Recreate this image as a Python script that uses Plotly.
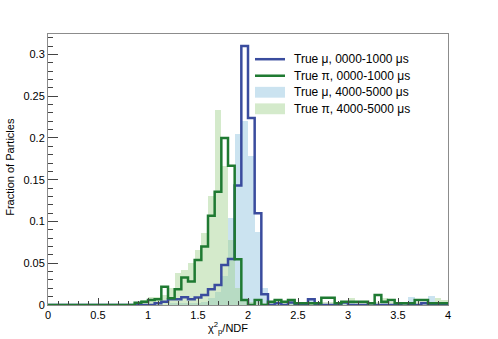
import numpy as np
import plotly.graph_objects as go

# 60 bins of width 1/15 between 0 and 4
bin_edges = np.linspace(0, 4, 61)

mu_early = [
    0, 0, 0, 0, 0, 0, 0, 0, 0, 0,
    0, 0, 0, 0, 0, 0, 0.002, 0.004, 0.0068, 0.0068,
    0.0092, 0.0068, 0.009, 0.012, 0.019, 0.024, 0.048, 0.055, 0.143, 0.310,
    0.224, 0.110, 0.013, 0, 0.002, 0, 0.003, 0, 0, 0.007,
    0, 0, 0, 0, 0.003, 0, 0, 0, 0.002, 0,
    0, 0, 0, 0.002, 0, 0, 0.002, 0, 0, 0,
]
pi_early = [
    0, 0, 0, 0, 0, 0, 0, 0, 0, 0,
    0, 0, 0, 0.0028, 0.004, 0.006, 0.0068, 0.0219, 0.008, 0.019,
    0.033, 0.028, 0.054, 0.070, 0.107, 0.1356, 0.200, 0.1667, 0.0547, 0.006,
    0, 0.006, 0, 0.004, 0.006, 0.004, 0.006, 0.002, 0.002, 0.002,
    0.002, 0.0088, 0.0088, 0.002, 0.004, 0.004, 0.004, 0.004, 0.002, 0.012,
    0.004, 0.006, 0.002, 0.002, 0.002, 0.006, 0.006, 0.002, 0.002, 0.002,
]
mu_late = [
    0, 0, 0, 0, 0, 0, 0, 0, 0, 0,
    0, 0, 0, 0, 0, 0, 0, 0, 0.002, 0.002,
    0.002, 0.002, 0.002, 0.004, 0.008, 0.015, 0.035, 0.104, 0.2046, 0.2206,
    0.178, 0.087, 0.020, 0.005, 0.004, 0, 0.004, 0, 0, 0.006,
    0, 0, 0, 0, 0.004, 0.003, 0, 0, 0, 0,
    0.004, 0, 0, 0, 0.009, 0, 0, 0.011, 0.004, 0,
]
pi_late = [
    0, 0, 0, 0, 0, 0, 0, 0, 0, 0,
    0, 0, 0, 0.004, 0.006, 0.010, 0.009, 0.012, 0.020, 0.038,
    0.042, 0.050, 0.066, 0.086, 0.130, 0.233, 0.166, 0.078, 0.020, 0.005,
    0.003, 0.004, 0.002, 0.004, 0.006, 0.004, 0.004, 0.002, 0.004, 0.004,
    0.002, 0.004, 0.004, 0.002, 0.004, 0.008, 0.004, 0.004, 0.002, 0.004,
    0.008, 0.004, 0.002, 0.002, 0.004, 0.004, 0.004, 0.004, 0.008, 0.006,
]

labels = [
    "True μ, 0000-1000 μs",
    "True π, 0000-1000 μs",
    "True μ, 4000-5000 μs",
    "True π, 4000-5000 μs",
]

MU_LINE = "#3a4c9e"
PI_LINE = "#1f7a32"
MU_FILL = "rgba(140,192,222,0.45)"
PI_FILL = "rgba(160,208,140,0.45)"

centers = (bin_edges[:-1] + bin_edges[1:]) / 2
width = bin_edges[1] - bin_edges[0]


def step(vals):
    # x at bin edges, y held over each bin ("hv")
    return list(bin_edges), list(vals) + [vals[-1]]


fig = go.Figure()

for vals, color in [(mu_late, MU_FILL), (pi_late, PI_FILL)]:
    fig.add_trace(go.Bar(
        x=centers, y=vals, width=width, showlegend=False,
        marker=dict(color=color, line=dict(width=0)),
    ))

for vals, color in [(mu_early, MU_LINE), (pi_early, PI_LINE)]:
    xs, ys = step(vals)
    fig.add_trace(go.Scatter(
        x=xs, y=ys, mode="lines", line_shape="hv", showlegend=False,
        line=dict(color=color, width=2.5),
    ))

axis_common = dict(
    showline=True, linecolor="#8c8c8c", linewidth=1, mirror=True,
    ticks="inside", tickcolor="#444", showgrid=False, zeroline=False,
    tickfont=dict(family="Liberation Sans", size=11, color="black"),
)

fig.update_xaxes(
    range=[0, 4], dtick=0.5, ticklen=7,
    minor=dict(ticks="inside", dtick=0.1, ticklen=4, tickcolor="#444"),
    tickformat="~g",
    **axis_common,
)
fig.update_yaxes(
    range=[0, 0.3245], dtick=0.05, ticklen=10,
    minor=dict(ticks="inside", dtick=0.01, ticklen=5, tickcolor="#444"),
    tickformat="~g",
    **axis_common,
)

# hand-built legend (ROOT-like tight row spacing)
row_y = [0.907, 0.846, 0.785, 0.724]
key_x0, key_x1, text_x = 0.5175, 0.5925, 0.61
shapes = []
annotations = []
styles = [("line", MU_LINE), ("line", PI_LINE), ("rect", MU_FILL), ("rect", PI_FILL)]
for (kind, color), yy, label in zip(styles, row_y, labels):
    if kind == "line":
        shapes.append(dict(type="line", xref="paper", yref="paper",
                           x0=key_x0, x1=key_x1, y0=yy, y1=yy,
                           line=dict(color=color, width=2.5)))
    else:
        shapes.append(dict(type="rect", xref="paper", yref="paper",
                           x0=key_x0, x1=key_x1, y0=yy - 0.02, y1=yy + 0.02,
                           fillcolor=color, line=dict(width=0)))
    annotations.append(dict(text=label, xref="paper", yref="paper",
                            x=text_x, y=yy, xanchor="left", yanchor="middle",
                            showarrow=False, font=dict(size=12)))

annotations += [
    dict(text="χ<sup>2</sup><sub>p</sub>/NDF", xref="paper", yref="paper",
         x=0.45, y=-0.086, xanchor="center", yanchor="middle",
         showarrow=False, font=dict(size=11)),
    dict(text="Fraction of Particles", xref="paper", yref="paper",
         x=-0.095, y=0.51, textangle=-90, xanchor="center", yanchor="middle",
         showarrow=False, font=dict(size=11)),
]

fig.update_layout(
    width=498, height=339,
    margin=dict(l=48, r=50, t=34, b=34),
    paper_bgcolor="white", plot_bgcolor="white",
    barmode="overlay", bargap=0,
    font=dict(family="Liberation Sans", size=12, color="black"),
    showlegend=False,
    shapes=shapes,
    annotations=annotations,
)

fig.write_html(
    "out.html",
    config={"displayModeBar": False},
    post_script="document.body.style.margin='0';",
)
